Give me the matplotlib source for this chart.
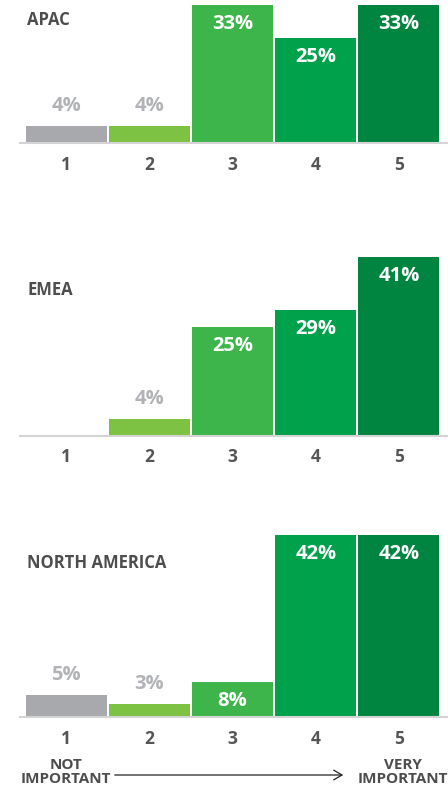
import matplotlib
matplotlib.use("Agg")
import matplotlib.pyplot as plt

plt.rcParams['font.family'] = ['Open Sans', 'DejaVu Sans']

scores = [1, 2, 3, 4, 5]
regions = ['APAC', 'EMEA', 'NORTH AMERICA']
apac = [4, 4, 33, 25, 33]
emea = [0, 4, 25, 29, 41]
north_america = [5, 3, 8, 42, 42]
shares = [apac, emea, north_america]

bar_colors = ['#a7a9ac', '#7dc242', '#3db54a', '#00a14b', '#008540']
title_color = '#4d4d4d'
tick_color = '#555555'
faint_color = '#b1b3b6'

W, H = 448, 790
fig = plt.figure(figsize=(W / 100, H / 100), dpi=100)

# pixel layout of each panel: baseline row and pixels per percent
baselines = [143, 436, 717]
px_per_pct = [4.18, 4.36, 4.33]
title_rows = [20, 290, 563]
ymax = 45
left_px, right_px = 20, 448
pt = 72 / 100  # points per pixel

for region, vals, base, scale, trow in zip(regions, shares, baselines, px_per_pct, title_rows):
    height_px = ymax * scale
    ax = fig.add_axes([left_px / W, (H - base) / H, (right_px - left_px) / W, height_px / H])
    ax.bar(scores, vals, width=0.975, color=bar_colors)
    ax.set_xlim(1 - 46 / 83, 5 + 49 / 83)
    ax.set_ylim(0, ymax)
    for side in ['top', 'right', 'left']:
        ax.spines[side].set_visible(False)
    ax.spines['bottom'].set_color('#d4d4d4')
    ax.spines['bottom'].set_linewidth(1.5)
    ax.set_yticks([])
    ax.set_xticks(scores)
    ax.set_xticklabels([str(s) for s in scores], fontsize=12.5, fontweight='bold', color=tick_color)
    ax.tick_params(axis='x', length=0, pad=9)
    ax.patch.set_alpha(0)

    for x, v in zip(scores, vals):
        if v == 0:
            continue
        if v >= 8:
            ax.annotate(f'{v}%', (x, v), xytext=(0, -19 * pt), textcoords='offset points',
                        ha='center', va='center', fontsize=14.5, fontweight='bold', color='white')
        else:
            ax.annotate(f'{v}%', (x, v), xytext=(0, 20 * pt), textcoords='offset points',
                        ha='center', va='center', fontsize=14.5, fontweight='bold', color=faint_color)

    fig.text(27 / W, 1 - trow / H, region, ha='left', va='center',
             fontsize=12, fontweight='bold', color=title_color)

# scale ends and arrow along the bottom
fig.text(66 / W, 1 - 772 / H, 'NOT\nIMPORTANT', ha='center', va='center',
         fontsize=11, fontweight='bold', color=title_color, linespacing=1.0)
fig.text(403 / W, 1 - 772 / H, 'VERY\nIMPORTANT', ha='center', va='center',
         fontsize=11, fontweight='bold', color=title_color, linespacing=1.0)
fig.add_artist(matplotlib.patches.FancyArrowPatch(
    (112 / W, 1 - 775 / H), (346 / W, 1 - 775 / H), transform=fig.transFigure,
    arrowstyle='->,head_length=6,head_width=3.5', color='#222222', lw=0.9))

fig.savefig('out.png', dpi=100)
